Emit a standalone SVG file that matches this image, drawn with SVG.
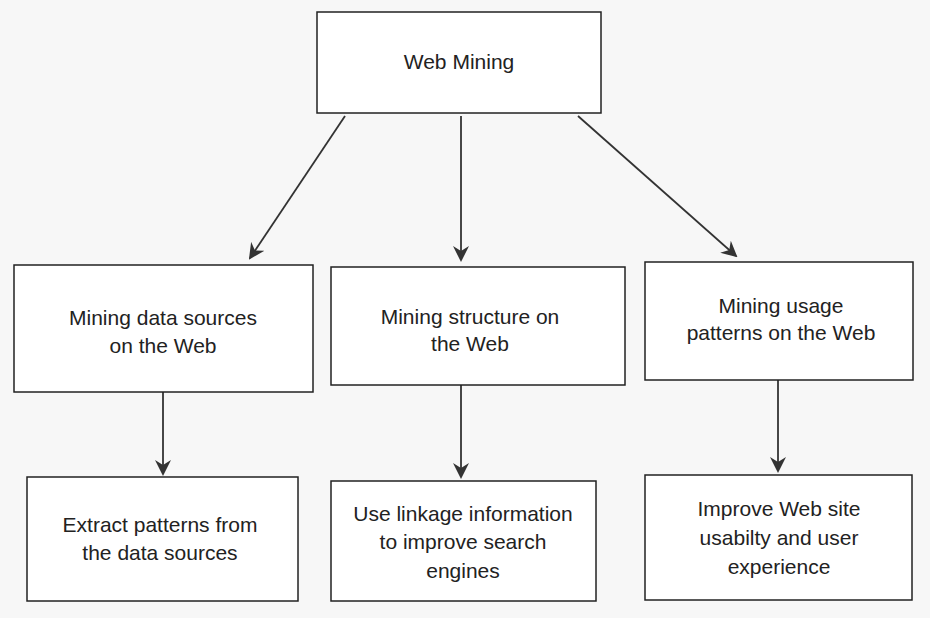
<svg xmlns="http://www.w3.org/2000/svg" width="930" height="618" viewBox="0 0 930 618">
<style>
.b{fill:#fff;stroke:#222;stroke-width:1.5}
.t{font-family:"Liberation Sans",Arial,sans-serif;font-size:21px;fill:#222;text-anchor:middle}
.c{stroke:#333;stroke-width:1.8;fill:none;marker-end:url(#a)}
</style>
<defs><marker id="a" markerWidth="16" markerHeight="16" refX="14" refY="8" orient="auto" markerUnits="userSpaceOnUse"><path d="M0,0 L16,8 L0,16 L5,8 Z" fill="#333"/></marker></defs>
<rect width="930" height="618" fill="#f7f7f7"/>
<g id="connectors">
<line class="c" x1="345" y1="116" x2="250" y2="258"/>
<line class="c" x1="461" y1="116" x2="461" y2="260"/>
<line class="c" x1="578" y1="116" x2="736" y2="256"/>
<line class="c" x1="163" y1="392" x2="163" y2="474"/>
<line class="c" x1="461" y1="385" x2="461" y2="477"/>
<line class="c" x1="778" y1="380" x2="778" y2="471"/>
</g>
<g id="web-mining"><rect class="b" x="317" y="12" width="284" height="101"/><text class="t" x="459" y="69">Web Mining</text></g>
<g id="data-sources"><rect class="b" x="14" y="265" width="299" height="127"/><text class="t" x="163" y="325">Mining data sources</text><text class="t" x="163" y="353">on the Web</text></g>
<g id="structure"><rect class="b" x="331" y="267" width="294" height="118"/><text class="t" x="470" y="324">Mining structure on</text><text class="t" x="470" y="351">the Web</text></g>
<g id="usage"><rect class="b" x="645" y="262" width="268" height="118"/><text class="t" x="781" y="313">Mining usage</text><text class="t" x="781" y="340">patterns on the Web</text></g>
<g id="extract"><rect class="b" x="27" y="477" width="271" height="124"/><text class="t" x="160" y="532">Extract patterns from</text><text class="t" x="160" y="560">the data sources</text></g>
<g id="linkage"><rect class="b" x="331" y="481" width="265" height="120"/><text class="t" x="463" y="521">Use linkage information</text><text class="t" x="463" y="549">to improve search</text><text class="t" x="463" y="578">engines</text></g>
<g id="usability"><rect class="b" x="645" y="475" width="267" height="125"/><text class="t" x="779" y="516">Improve Web site</text><text class="t" x="779" y="545">usabilty and user</text><text class="t" x="779" y="574">experience</text></g>
</svg>
